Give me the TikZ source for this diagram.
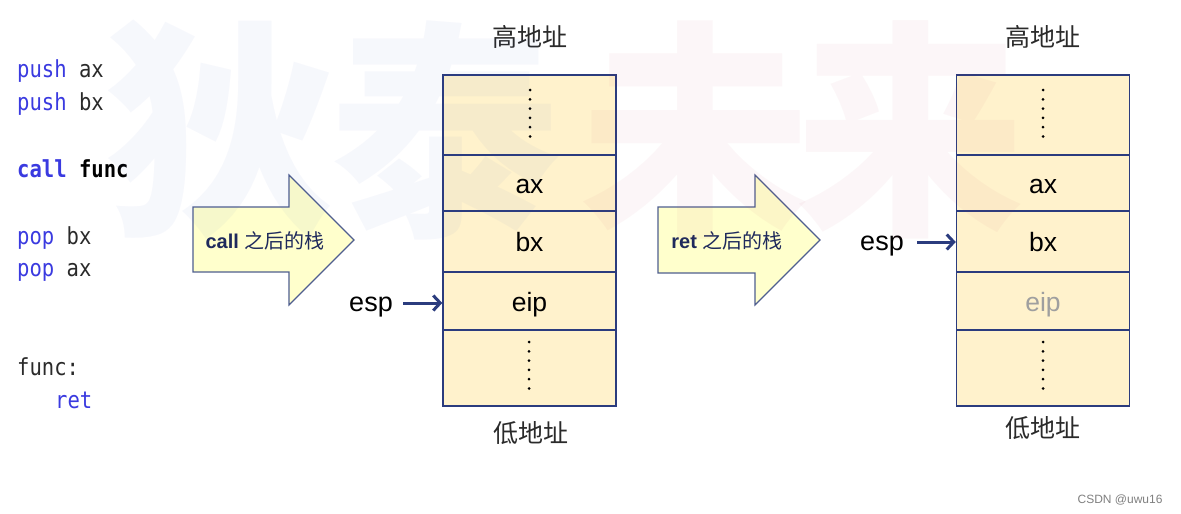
\documentclass[tikz,border=0pt]{standalone}
\usepackage{fontspec}
\setmainfont{Liberation Sans}
\newfontfamily\cjk{Noto Sans CJK SC}
\newfontfamily\codefont[FakeStretch=0.875]{DejaVu Sans Mono}
\usetikzlibrary{arrows.meta}
\definecolor{stackfill}{HTML}{FFF2CC}
\definecolor{stackline}{HTML}{2B3C7E}
\definecolor{arrowfill}{HTML}{FFFFCC}
\definecolor{arrowline}{HTML}{4F5F8F}
\definecolor{navy}{HTML}{1F2A5C}
\definecolor{codeblue}{HTML}{3A3AE0}
\definecolor{codetext}{HTML}{2A2A2A}
\definecolor{wmblue}{HTML}{3050C0}
\definecolor{wmred}{HTML}{C03050}
\tikzset{
  cell/.style={draw=stackline, fill=stackfill, line width=1.4pt, minimum width=173pt, inner sep=0pt},
  celltext/.style={font=\fontsize{26.5}{26.5}\selectfont, text=black, text height=24pt, text depth=4pt},
  addr/.style={font=\cjk\fontsize{25}{25}\selectfont, text=codetext},
  code/.style={font=\codefont\fontsize{23.5}{23.5}\selectfont, anchor=base west, inner sep=0pt},
  espl/.style={font=\fontsize{27}{27}\selectfont, text=black, inner sep=0pt, anchor=base},
  espar/.style={draw=stackline, line width=3pt, -{Straight Barb[length=7pt,width=15pt,line width=3pt]}},
  big/.style={draw=arrowline, fill=arrowfill, line width=1.2pt, line join=miter},
  bigtext/.style={font=\fontsize{20}{20}\selectfont, text=navy},
  dot/.style={circle, fill=black, inner sep=0pt, minimum size=3pt},
  wm/.style={font=\cjk\bfseries\fontsize{230}{230}\selectfont, opacity=0.04}
}
\begin{document}
\begin{tikzpicture}[x=1pt,y=-1pt]
\useasboundingbox[fill=white] (0,0) rectangle (1181,514);

% code listing
\node[code] (c1) at (17,77) {\textcolor{codeblue}{push} \textcolor{codetext}{ax}};
\node[code] (c2) at (17,110) {\textcolor{codeblue}{push} \textcolor{codetext}{bx}};
\node[code] (c3) at (17,177) {\textcolor{codeblue}{\bfseries call} \textcolor{black}{\bfseries func}};
\node[code] (c4) at (17,244) {\textcolor{codeblue}{pop} \textcolor{codetext}{bx}};
\node[code] (c5) at (17,276) {\textcolor{codeblue}{pop} \textcolor{codetext}{ax}};
\node[code] (c6) at (17,375) {\textcolor{codetext}{func:}};
\node[code] (c7) at (55,408) {\textcolor{codeblue}{ret}};

% big arrows
\draw[big] (193,207) -- (289,207) -- (289,175) -- (354,240) -- (289,305) -- (289,272) -- (193,272) -- cycle;
\node[bigtext] (a1) at (265,241) {\textbf{call} {\cjk 之后的栈}};
\draw[big] (658,207) -- (755,207) -- (755,175) -- (820,240) -- (755,305) -- (755,273) -- (658,273) -- cycle;
\node[bigtext] (a2) at (727,241) {\textbf{ret} {\cjk 之后的栈}};

% stack 1
\node[addr] (h1) at (530,37) {高地址};
\node[cell, minimum height=80pt] (s1top) at (529.5,115) {};
\node[cell, minimum height=56pt, celltext] (s1ax) at (529.5,183) {ax};
\node[cell, minimum height=61pt, celltext] (s1bx) at (529.5,241.5) {bx};
\node[cell, minimum height=58pt, celltext] (s1eip) at (529.5,301) {eip};
\node[cell, minimum height=76pt] (s1bot) at (529.5,368) {};
\node[addr] (l1) at (531,433) {低地址};
\foreach \i in {0,...,5} {
  \node[dot] (d1t\i) at (530,{90+\i*9.3}) {};
  \node[dot] (d1b\i) at (529,{342+\i*9.3}) {};
}
\node[espl] (esp1) at (371,311) {esp};
\coordinate (e1) at (403,303);
\draw[espar] (e1) -- (s1eip.west |- e1);

% stack 2
\node[addr] (h2) at (1043,37) {高地址};
\node[cell, minimum height=80pt] (s2top) at (1043,115) {};
\node[cell, minimum height=56pt, celltext] (s2ax) at (1043,183) {ax};
\node[cell, minimum height=61pt, celltext] (s2bx) at (1043,241.5) {bx};
\node[cell, minimum height=58pt, celltext, text=gray!75] (s2eip) at (1043,301) {eip};
\node[cell, minimum height=76pt] (s2bot) at (1043,368) {};
\node[addr] (l2) at (1043,428) {低地址};
\foreach \i in {0,...,5} {
  \node[dot] (d2t\i) at (1043,{90+\i*9.3}) {};
  \node[dot] (d2b\i) at (1043,{342+\i*9.3}) {};
}
\node[espl] (esp2) at (882,250) {esp};
\coordinate (e2) at (917,242);
\draw[espar] (e2) -- (s2bx.west |- e2);

% watermark
\node[wm, text=wmblue] (w1) at (220,130) {狄};
\node[wm, text=wmblue] (w2) at (445,130) {泰};
\node[wm, text=wmred] (w3) at (695,130) {未};
\node[wm, text=wmred] (w4) at (910,130) {来};

\node[font=\fontsize{12}{12}\selectfont, text=gray, anchor=east] (csdn) at (1166,500) {CSDN @uwu16};
\end{tikzpicture}
\end{document}
